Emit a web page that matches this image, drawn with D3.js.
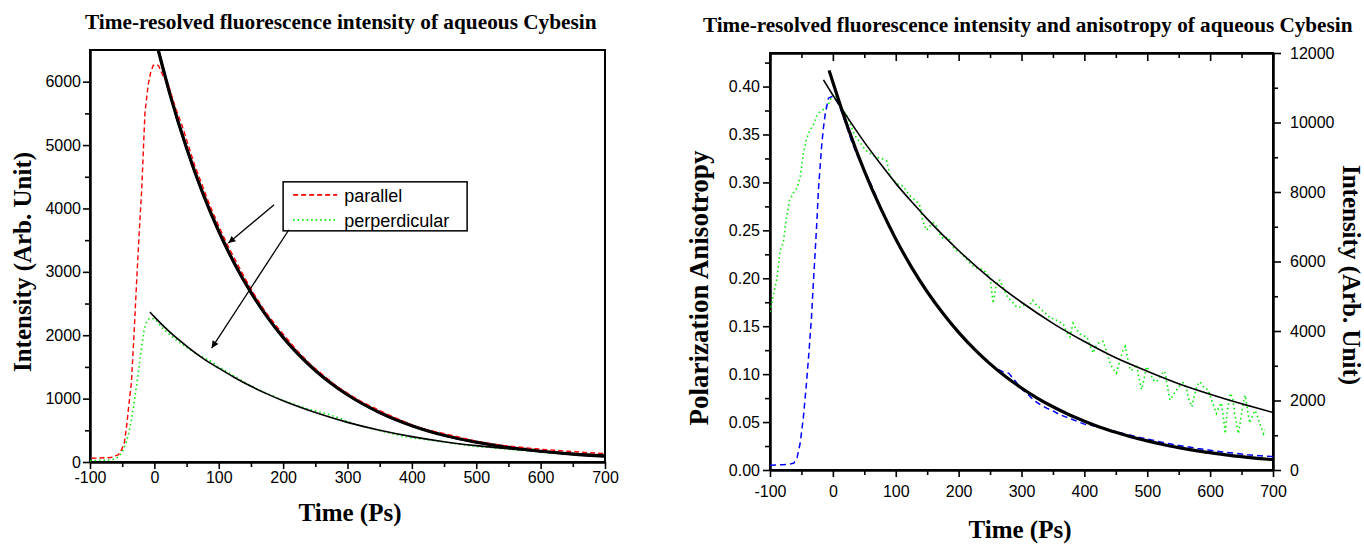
<!DOCTYPE html>
<html>
<head>
<meta charset="utf-8">
<script src="https://cdn.jsdelivr.net/npm/d3@7"></script>
<style>
  body { margin: 0; background: #fff; }
  svg { display: block; }
  .tick text { font-family: Arial, "Liberation Sans", sans-serif; font-size: 16px; fill: #000; }
  .axis path, .axis line { stroke: #000; }
  .axis path { stroke-width: 2; }
  .axis line { stroke-width: 1.6; }
  .ttl { font-family: "Times New Roman", "Liberation Serif", serif; font-weight: bold; fill: #000; }
  .lg { font-family: Arial, "Liberation Sans", sans-serif; font-size: 18px; fill: #000; }
</style>
</head>
<body>
<svg id="fig" width="1364" height="544"></svg>
<script>
// ---- left panel: intensity, [time ps, counts]
const parallel = [[-100,60],[-90,62],[-80,66],[-70,70],[-62,100],[-58,115],[-53,200],[-49,304],[-45,600],[-42,900],[-38,1250],[-34,2000],[-30,2828],[-26,3600],[-22,4295],[-17,5505],[-12,5950],[-8,6150],[-4,6260],[0,6265],[4,6255],[10,6120],[20,5930],[30,5600],[40,5330],[50,5010],[60,4690],[70,4420],[80,4150],[90,3900],[100,3670],[110,3450],[120,3250],[130,3060],[140,2870],[150,2690],[160,2530],[170,2370],[180,2240],[190,2110],[200,1990],[220,1750],[240,1540],[260,1370],[280,1200],[300,1070],[320,950],[340,850],[360,750],[380,660],[400,575],[420,510],[440,465],[460,420],[480,370],[500,320],[520,290],[540,262],[560,240],[580,218],[600,200],[620,185],[640,170],[660,155],[680,142],[700,132]];
const perpendicular = [[-100,20],[-90,24],[-80,28],[-70,34],[-62,45],[-56,80],[-52,130],[-48,200],[-44,300],[-40,450],[-36,650],[-32,900],[-28,1180],[-24,1480],[-20,1800],[-16,2080],[-12,2220],[-8,2260],[-4,2270],[0,2250],[5,2210],[10,2140],[20,2040],[30,1960],[40,1880],[50,1810],[60,1740],[70,1680],[80,1630],[90,1575],[100,1500],[120,1380],[140,1260],[160,1150],[180,1060],[200,970],[220,900],[240,830],[260,780],[280,720],[300,640],[320,570],[340,520],[360,470],[380,420],[400,380],[420,355],[440,330],[460,300],[480,270],[500,245],[520,230],[540,210],[560,190],[580,175],[600,160],[620,145],[640,130],[660,120],[680,110],[700,100]];
const parallelFit = [[6,6500],[25,5776],[50,4953],[75,4245],[100,3640],[125,3120],[150,2675],[175,2293],[200,1966],[250,1444],[300,1061],[350,780],[400,573],[450,421],[500,313],[550,230],[600,170],[650,124],[700,92]];
const perpendicularFit = [[-7,2366],[0,2290],[25,2040],[50,1830],[75,1640],[100,1480],[125,1330],[150,1195],[175,1075],[200,965],[250,780],[300,625],[350,500],[400,400],[450,320],[500,258],[550,208],[600,167],[650,135],[700,108]];
const legendNames = ["parallel", "perperdicular"];
// arrows: [from, to] in data units
const arrows = [[[186,4058],[115,3454]], [[209,3664],[89,1798]]];

// ---- right panel: total intensity (right axis) and anisotropy (left axis)
const intensity = [[-100,140],[-90,145],[-80,150],[-70,160],[-62,200],[-57,350],[-52,770],[-47,1500],[-42,2500],[-38,3400],[-34,4400],[-31,5400],[-28,6330],[-25,7300],[-23,8060],[-20,8800],[-18,9300],[-15,9850],[-12,10270],[-7,10700],[-2,10745],[3,10720],[10,10500],[20,10000],[30,9450],[40,9000],[50,8620],[60,8250],[70,7820],[80,7390],[90,7040],[100,6640],[110,6330],[120,5990],[130,5690],[140,5400],[150,5120],[160,4880],[170,4620],[180,4390],[190,4180],[200,3960],[220,3570],[240,3230],[260,2920],[270,2830],[280,2780],[290,2560],[300,2330],[310,2180],[320,2000],[330,1880],[340,1780],[350,1700],[360,1600],[370,1530],[380,1460],[390,1390],[400,1320],[410,1290],[420,1250],[440,1150],[460,1060],[480,970],[500,890],[520,810],[540,740],[560,680],[580,620],[600,570],[620,520],[640,480],[660,440],[680,410],[700,385]];
const intensityFit = [[-6,11500],[0,11160],[25,9800],[50,8610],[75,7570],[100,6650],[125,5840],[150,5130],[175,4510],[200,3960],[225,3478],[250,3055],[275,2683],[300,2360],[325,2070],[350,1820],[375,1597],[400,1405],[425,1233],[450,1085],[475,951],[500,837],[525,734],[550,646],[575,567],[600,499],[625,437],[650,385],[675,337],[700,297]];
const anisotropy = [[-100,0.165],[-95,0.181],[-89,0.200],[-84,0.228],[-79,0.237],[-74,0.262],[-69,0.281],[-63,0.289],[-57,0.294],[-52,0.306],[-47,0.330],[-42,0.345],[-37,0.354],[-31,0.360],[-26,0.369],[-20,0.374],[-13,0.377],[-8,0.380],[-2,0.389],[3,0.392],[8,0.385],[11,0.381],[16,0.376],[22,0.370],[27,0.362],[33,0.352],[38,0.346],[43,0.342],[48,0.337],[55,0.332],[62,0.329],[70,0.326],[78,0.325],[86,0.322],[91,0.306],[97,0.302],[104,0.298],[112,0.296],[118,0.290],[124,0.285],[130,0.282],[135,0.279],[139,0.275],[143,0.260],[149,0.250],[155,0.255],[160,0.258],[165,0.254],[170,0.246],[176,0.241],[182,0.243],[186,0.240],[192,0.232],[198,0.228],[204,0.226],[210,0.222],[218,0.216],[224,0.212],[232,0.210],[239,0.209],[245,0.205],[250,0.200],[255,0.174],[259,0.190],[263,0.198],[266,0.198],[272,0.188],[278,0.180],[285,0.176],[292,0.170],[298,0.170],[304,0.172],[311,0.170],[318,0.177],[324,0.172],[329,0.169],[335,0.165],[341,0.162],[346,0.158],[351,0.158],[356,0.156],[361,0.154],[366,0.153],[371,0.145],[377,0.139],[382,0.153],[387,0.147],[393,0.142],[398,0.140],[404,0.139],[409,0.130],[414,0.122],[419,0.130],[425,0.134],[430,0.134],[435,0.124],[441,0.111],[446,0.105],[451,0.101],[456,0.113],[461,0.124],[465,0.129],[469,0.116],[473,0.104],[478,0.105],[483,0.110],[487,0.095],[491,0.084],[495,0.095],[499,0.108],[504,0.103],[509,0.094],[515,0.092],[520,0.097],[524,0.101],[528,0.103],[532,0.088],[536,0.073],[541,0.078],[547,0.084],[552,0.088],[557,0.091],[562,0.086],[566,0.074],[571,0.066],[575,0.078],[579,0.088],[584,0.092],[588,0.088],[592,0.085],[597,0.084],[601,0.075],[606,0.066],[610,0.059],[614,0.066],[618,0.070],[621,0.055],[624,0.038],[627,0.060],[632,0.080],[636,0.075],[640,0.055],[645,0.038],[648,0.050],[652,0.068],[656,0.078],[660,0.060],[663,0.049],[667,0.056],[671,0.062],[674,0.059],[678,0.050],[681,0.045],[685,0.038],[687,0.042]];
const anisotropyFit = [[-15,0.407],[0,0.391],[25,0.366],[50,0.342],[75,0.320],[100,0.299],[125,0.280],[150,0.262],[175,0.245],[200,0.229],[250,0.200],[300,0.175],[350,0.153],[400,0.134],[450,0.117],[500,0.103],[550,0.090],[600,0.079],[650,0.069],[700,0.060]];

const timeTicks = [-100, 0, 100, 200, 300, 400, 500, 600, 700];
const plain = d => String(d);   // keeps "-100" with a hyphen, no thousands comma

const svg = d3.select("#fig");

// arrow head
svg.append("defs").append("marker")
    .attr("id", "head")
    .attr("viewBox", "0 0 10 10")
    .attr("refX", 10).attr("refY", 5)
    .attr("markerWidth", 9).attr("markerHeight", 7)
    .attr("markerUnits", "userSpaceOnUse")
    .attr("orient", "auto")
    .append("path").attr("d", "M0,0L10,5L0,10z").attr("fill", "#000");

function addClip(id, x0, y0, x1, y1) {
    svg.select("defs").append("clipPath").attr("id", id)
        .append("rect").attr("x", x0).attr("y", y0).attr("width", x1 - x0).attr("height", y1 - y0);
}

// narrow bold serif title squeezed to the width it has in the picture
function title(x, y, width, txt) {
    const t = svg.append("text").attr("class", "ttl").attr("font-size", 22).text(txt);
    const w = t.node().getComputedTextLength();
    t.attr("transform", `translate(${x},${y}) scale(${width / w},1)`);
}

/* ===================== left chart ===================== */
const xL = d3.scaleLinear().domain([-100, 700]).range([90, 605]);
const yL = d3.scaleLinear().domain([0, 6500]).range([462, 50]);
addClip("clipL", 90, 50, 605, 462);

svg.append("rect") // frame
    .attr("x", 90).attr("y", 50).attr("width", 515).attr("height", 412)
    .attr("fill", "none").attr("stroke", "#000").attr("stroke-width", 2);

svg.append("g").attr("class", "axis")
    .attr("transform", `translate(0,462)`)
    .call(d3.axisBottom(xL).tickValues(d3.range(-50, 700, 100)).tickSize(5).tickFormat("").tickSizeOuter(0));
svg.append("g").attr("class", "axis")
    .attr("transform", `translate(0,462)`)
    .call(d3.axisBottom(xL).tickValues(timeTicks).tickSize(7).tickPadding(3).tickFormat(plain).tickSizeOuter(0));
svg.append("g").attr("class", "axis")
    .attr("transform", `translate(90,0)`)
    .call(d3.axisLeft(yL).tickValues(d3.range(500, 6500, 1000)).tickSize(5).tickFormat("").tickSizeOuter(0));
svg.append("g").attr("class", "axis")
    .attr("transform", `translate(90,0)`)
    .call(d3.axisLeft(yL).tickValues(d3.range(0, 6001, 1000)).tickSize(7).tickPadding(2).tickFormat(plain).tickSizeOuter(0));

const lineL = d3.line().x(d => xL(d[0])).y(d => yL(d[1]));
const fitL = d3.line().x(d => xL(d[0])).y(d => yL(d[1])).curve(d3.curveMonotoneX);
const gL = svg.append("g").attr("clip-path", "url(#clipL)");

gL.append("path").datum(perpendicular).attr("d", lineL)
    .attr("fill", "none").attr("stroke", "#00ee00").attr("stroke-width", 1.6).attr("stroke-dasharray", "1.5,3");
gL.append("path").datum(parallelFit).attr("d", fitL)
    .attr("fill", "none").attr("stroke", "#000").attr("stroke-width", 3.2);
gL.append("path").datum(parallel).attr("d", lineL) // red peeks out along the fit
    .attr("fill", "none").attr("stroke", "#ff0000").attr("stroke-width", 1.4).attr("stroke-dasharray", "5,3")
    .attr("transform", "translate(1.5,0)");
gL.append("path").datum(parallelFit).attr("d", fitL)
    .attr("fill", "none").attr("stroke", "#000").attr("stroke-width", 2.4);
gL.append("path").datum(perpendicularFit).attr("d", fitL)
    .attr("fill", "none").attr("stroke", "#000").attr("stroke-width", 1.6);

// legend
const lgX = xL(200), lgY = yL(4420);
const lg = svg.append("g").attr("transform", `translate(${lgX},${lgY})`);
lg.append("rect").attr("width", 184).attr("height", 49)
    .attr("fill", "#fff").attr("stroke", "#000").attr("stroke-width", 1.5);
const lgStyles = [["#ff0000", "5,3"], ["#00ee00", "1.5,3"]];
legendNames.forEach((n, i) => {
    lg.append("line").attr("x1", 10).attr("x2", 54).attr("y1", 13 + i * 25).attr("y2", 13 + i * 25)
        .attr("stroke", lgStyles[i][0]).attr("stroke-width", 1.6).attr("stroke-dasharray", lgStyles[i][1]);
    lg.append("text").attr("class", "lg").attr("x", 61).attr("y", 20 + i * 25).text(n);
});

arrows.forEach(a => {
    svg.append("line")
        .attr("x1", xL(a[0][0])).attr("y1", yL(a[0][1]))
        .attr("x2", xL(a[1][0])).attr("y2", yL(a[1][1]))
        .attr("stroke", "#000").attr("stroke-width", 1.3)
        .attr("marker-end", "url(#head)");
});

title(85, 29, 512, "Time-resolved fluorescence intensity of aqueous Cybesin");
svg.append("text").attr("class", "ttl")
    .attr("x", 350).attr("y", 521).attr("font-size", 25).attr("text-anchor", "middle")
    .text("Time (Ps)");
svg.append("text").attr("class", "ttl")
    .attr("transform", "translate(31,262) rotate(-90)").attr("font-size", 25).attr("text-anchor", "middle")
    .text("Intensity (Arb. Unit)");

/* ===================== right chart ===================== */
const xR = d3.scaleLinear().domain([-100, 700]).range([770, 1273]);
const yA = d3.scaleLinear().domain([0, 0.435]).range([470, 53]);
const yI = d3.scaleLinear().domain([0, 12000]).range([470, 53]);
addClip("clipR", 770, 53, 1273, 470);

svg.append("rect")
    .attr("x", 770).attr("y", 53).attr("width", 503).attr("height", 417)
    .attr("fill", "none").attr("stroke", "#000").attr("stroke-width", 2);

// bottom
svg.append("g").attr("class", "axis").attr("transform", "translate(0,470)")
    .call(d3.axisBottom(xR).tickValues(d3.range(-50, 700, 100)).tickSize(5).tickFormat("").tickSizeOuter(0));
svg.append("g").attr("class", "axis").attr("transform", "translate(0,470)")
    .call(d3.axisBottom(xR).tickValues(timeTicks).tickSize(7).tickPadding(9).tickFormat(plain).tickSizeOuter(0));
// top, ticks inward
svg.append("g").attr("class", "axis").attr("transform", "translate(0,53)")
    .call(d3.axisTop(xR).tickValues(d3.range(-50, 700, 100)).tickSize(-5).tickFormat("").tickSizeOuter(0));
svg.append("g").attr("class", "axis").attr("transform", "translate(0,53)")
    .call(d3.axisTop(xR).tickValues(timeTicks).tickSize(-8).tickFormat("").tickSizeOuter(0));
// left anisotropy
svg.append("g").attr("class", "axis").attr("transform", "translate(770,0)")
    .call(d3.axisLeft(yA).tickValues(d3.range(0.025, 0.43, 0.05)).tickSize(5).tickFormat("").tickSizeOuter(0));
svg.append("g").attr("class", "axis").attr("transform", "translate(770,0)")
    .call(d3.axisLeft(yA).tickValues(d3.range(0, 0.401, 0.05)).tickSize(7).tickPadding(3)
        .tickFormat(d3.format(".2f")).tickSizeOuter(0));
// right intensity
svg.append("g").attr("class", "axis").attr("transform", "translate(1273,0)")
    .call(d3.axisRight(yI).tickValues(d3.range(1000, 12000, 2000)).tickSize(5).tickFormat("").tickSizeOuter(0));
svg.append("g").attr("class", "axis").attr("transform", "translate(1273,0)")
    .call(d3.axisRight(yI).tickValues(d3.range(0, 12001, 2000)).tickSize(8).tickPadding(9)
        .tickFormat(plain).tickSizeOuter(0));

const gR = svg.append("g").attr("clip-path", "url(#clipR)");
const lineI = d3.line().x(d => xR(d[0])).y(d => yI(d[1]));
const lineA = d3.line().x(d => xR(d[0])).y(d => yA(d[1]));

gR.append("path").datum(anisotropy).attr("d", lineA)
    .attr("fill", "none").attr("stroke", "#00ee00").attr("stroke-width", 1.6).attr("stroke-dasharray", "1.5,3");
gR.append("path").datum(intensity).attr("d", lineI)
    .attr("fill", "none").attr("stroke", "#0000ff").attr("stroke-width", 1.5).attr("stroke-dasharray", "6,4");
gR.append("path").datum(anisotropyFit).attr("d", lineA.curve(d3.curveMonotoneX))
    .attr("fill", "none").attr("stroke", "#000").attr("stroke-width", 1.6);
gR.append("path").datum(intensityFit).attr("d", lineI.curve(d3.curveMonotoneX))
    .attr("fill", "none").attr("stroke", "#000").attr("stroke-width", 3.2);

title(703, 32, 650, "Time-resolved fluorescence intensity and anisotropy of aqueous Cybesin");
svg.append("text").attr("class", "ttl")
    .attr("x", 1020).attr("y", 538).attr("font-size", 25).attr("text-anchor", "middle")
    .text("Time (Ps)");
svg.append("text").attr("class", "ttl")
    .attr("transform", "translate(708,288) rotate(-90)").attr("font-size", 27).attr("text-anchor", "middle")
    .text("Polarization Anisotropy");
svg.append("text").attr("class", "ttl")
    .attr("transform", "translate(1343,275) rotate(90)").attr("font-size", 25).attr("text-anchor", "middle")
    .text("Intensity (Arb. Unit)");
</script>
</body>
</html>
